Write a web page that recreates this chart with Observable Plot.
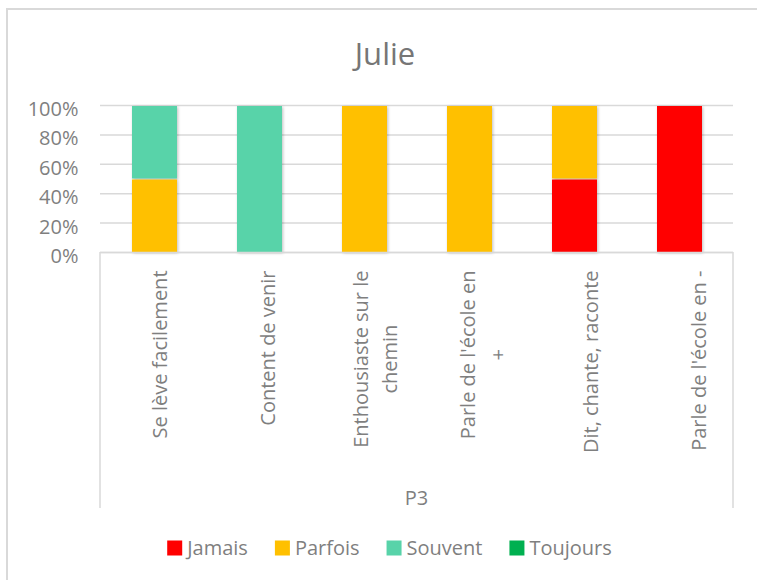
<!DOCTYPE html>
<html>
<head>
<meta charset="utf-8">
<script src="https://cdn.jsdelivr.net/npm/d3@7"></script>
<script src="https://cdn.jsdelivr.net/npm/@observablehq/plot@0.6"></script>
<style>
  body { margin: 0; background: #fff; }
  #chart { position: relative; width: 757px; height: 580px; overflow: hidden; }
  #chart svg { display: block; }
</style>
</head>
<body>
<div id="chart"></div>
<script>
// ---- data ----
const title = "Julie";
const groupLabel = "P3";
const categories = [
  "Se lève facilement",
  "Content de venir",
  "Enthousiaste sur le chemin",
  "Parle de l'école en +",
  "Dit, chante, raconte",
  "Parle de l'école en -"
];
const tickLabels = [
  "Se lève facilement",
  "Content de venir",
  "Enthousiaste sur le\nchemin",
  "Parle de l'école en\n+",
  "Dit, chante, raconte",
  "Parle de l'école en -"
];
const series = ["Jamais", "Parfois", "Souvent", "Toujours"];
const jamais   = [0,   0, 0, 0, 0.5, 1];
const parfois  = [0.5, 0, 1, 1, 0.5, 0];
const souvent  = [0.5, 1, 0, 0, 0,   0];
const toujours = [0,   0, 0, 0, 0,   0];
const seriesColors = ["#ff0000", "#ffc000", "#58d3a9", "#00b050"];
const yTicks = [0, 0.2, 0.4, 0.6, 0.8, 1];

// ---- table for the library ----
const seriesValues = [jamais, parfois, souvent, toujours];
const rows = [];
series.forEach((s, j) => categories.forEach((c, i) => {
  if (seriesValues[j][i] > 0) rows.push({category: c, series: s, value: seriesValues[j][i]});
}));

// ---- layout ----
const W = 757, H = 580;
const mL = 100, mR = 24, mT = 105, mB = 328;
const textColor = "#7f7f7f";
const font = "'Open Sans', sans-serif";
const fs = 20;

const ctx = document.createElement("canvas").getContext("2d");
ctx.font = `${fs}px 'Open Sans'`;

const labelMarks = categories.map((c, i) => {
  const lines = tickLabels[i].split("\n");
  const L = Math.max(...lines.map(l => ctx.measureText(l).width));
  return Plot.text([c], {
    x: d => d,
    text: () => tickLabels[i],
    frameAnchor: "bottom",
    rotate: -90,
    textAnchor: "middle",
    lineAnchor: "middle",
    lineHeight: 1.5,
    fontSize: fs,
    fill: textColor,
    dy: 18 + L / 2,
    dx: 2.4 + 2.75 * i
  });
});

const chart = Plot.plot({
  width: W, height: H,
  marginLeft: mL, marginRight: mR, marginTop: mT, marginBottom: mB,
  style: {fontFamily: font, color: textColor, background: "transparent", overflow: "visible"},
  x: {domain: categories, paddingInner: 0.5735, paddingOuter: 0.2867, align: 0.5, axis: null},
  y: {domain: [0, 1], label: null},
  color: {domain: series, range: seriesColors},
  marks: [
    Plot.gridY(yTicks, {stroke: "#d9d9d9", strokeOpacity: 1, strokeWidth: 1.5}),
    Plot.axisY(yTicks, {tickFormat: d3.format(".0%"), tickSize: 0, tickPadding: 22, fontSize: fs, dy: 4, fill: textColor, label: null}),
    Plot.barY(rows, Plot.stackY({x: "category", y: "value", fill: "series", order: series, insetTop: 1})),
    Plot.ruleY([0], {stroke: "#d9d9d9", strokeWidth: 1.5}),
    ...labelMarks
  ]
});

document.getElementById("chart").appendChild(chart);

// ---- decorations: frame, title, category box, group label, legend ----
const svg = d3.select(chart);
svg.selectAll('g[aria-label="bar"]').style("filter", "drop-shadow(1.5px 1.5px 1.5px rgba(0,0,0,0.25))");

const deco = svg.insert("g", ":first-child");
deco.append("path").attr("d", `M7,${H + 5}V9H${W + 5}`).attr("fill", "none").attr("stroke", "#d9d9d9").attr("stroke-width", 2);

const xr = chart.scale("x").range;
const y0 = chart.scale("y").apply(0);
const boxBottom = 508;
[xr[0], xr[1]].forEach(x => {
  deco.append("line").attr("x1", x).attr("x2", x).attr("y1", y0).attr("y2", boxBottom)
    .attr("stroke", "#d9d9d9").attr("stroke-width", 1.5);
});

svg.append("text").text(title)
  .attr("x", 385).attr("y", 65).attr("text-anchor", "middle")
  .attr("font-family", font).attr("font-size", 31).attr("fill", "#767676");

svg.append("text").text(groupLabel)
  .attr("x", (xr[0] + xr[1]) / 2).attr("y", 505).attr("text-anchor", "middle")
  .attr("font-family", font).attr("font-size", fs).attr("fill", textColor);

const color = chart.scale("color");
const sq = 15, sqGap = 5, itemGap = 27;
const widths = series.map(s => ctx.measureText(s).width);
const total = widths.reduce((a, w) => a + sq + sqGap + w, 0) + itemGap * (series.length - 1);
let lx = 389.5 - total / 2;
const leg = svg.append("g").attr("text-anchor", "start");
series.forEach((s, j) => {
  leg.append("rect").attr("x", lx).attr("y", 540.5).attr("width", sq).attr("height", sq).attr("fill", color.apply(s));
  leg.append("text").text(s).attr("x", lx + sq + sqGap).attr("y", 555).attr("text-anchor", "start")
    .attr("font-family", font).attr("font-size", fs).attr("fill", textColor);
  lx += sq + sqGap + widths[j] + itemGap;
});
</script>
</body>
</html>
